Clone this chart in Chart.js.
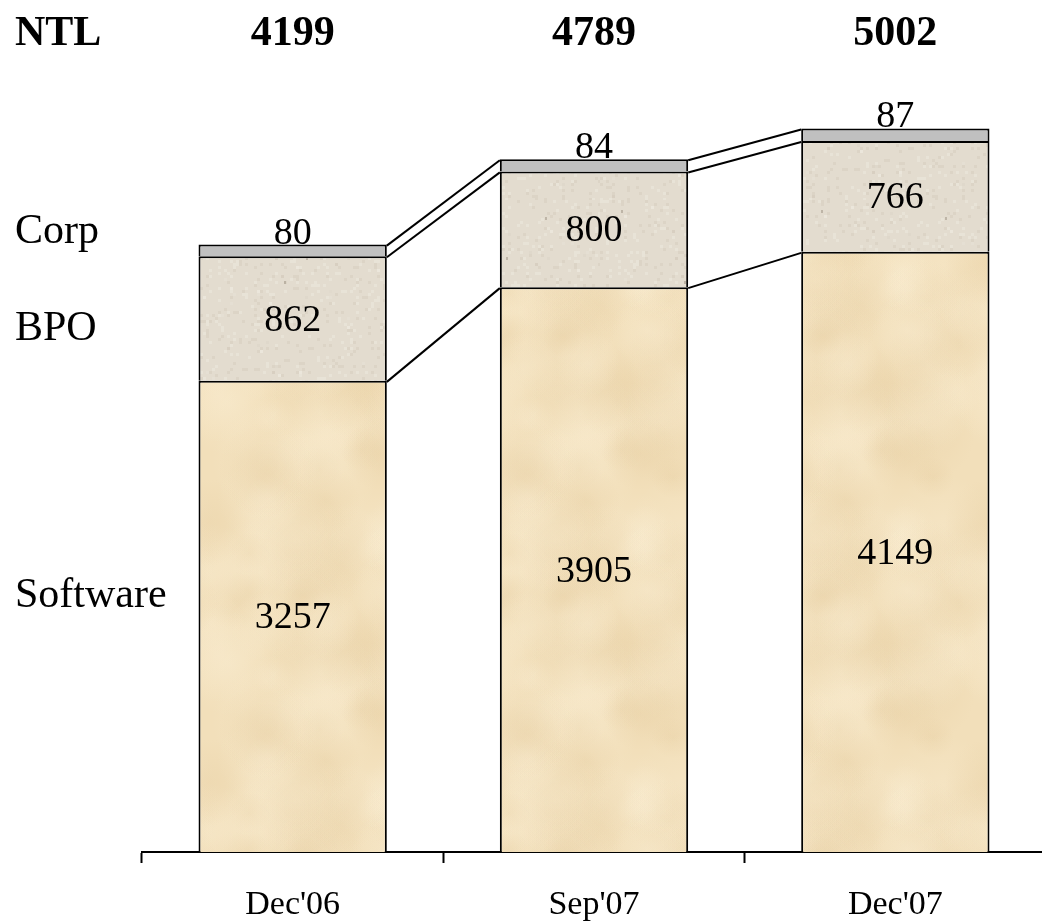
<!DOCTYPE html>
<html>
<head>
<meta charset="utf-8">
<title>NTL headcount</title>
<script src="https://cdn.jsdelivr.net/npm/chart.js@4.4.1/dist/chart.umd.min.js"></script>
<style>
  html, body { margin: 0; padding: 0; background: #fff; overflow: hidden; }
  #wrap { width: 1042px; height: 923px; overflow: hidden; }
</style>
</head>
<body>
<div id="wrap"><canvas id="chart" width="1046" height="948"></canvas></div>
<script>
// Periods and headcount per business line
const periods = ["Dec'06", "Sep'07", "Dec'07"];
const software = [3257, 3905, 4149];
const bpo = [862, 800, 766];
const corp = [80, 84, 87];
const seriesNames = ["Software", "BPO", "Corp"];
const totalLabel = "NTL";

const SERIF = "'Liberation Serif', 'Times New Roman', serif";

// Small seeded generator so the paper-like texture is the same on every load
function seeded(seed) {
  let s = seed >>> 0;
  return function () {
    s = (s + 0x6D2B79F5) >>> 0;
    let t = s;
    t = Math.imul(t ^ (t >>> 15), t | 1);
    t ^= t + Math.imul(t ^ (t >>> 7), t | 61);
    return ((t ^ (t >>> 14)) >>> 0) / 4294967296;
  };
}

// Warm, softly mottled fill for the software segment
function sandPattern() {
  const c = document.createElement('canvas');
  c.width = 260; c.height = 260;
  const g = c.getContext('2d');
  const rnd = seeded(17);
  g.fillStyle = '#f2dfba';
  g.fillRect(0, 0, 260, 260);
  for (let i = 0; i < 60; i++) {
    const x = rnd() * 260, y = rnd() * 260, r = 18 + rnd() * 40;
    const light = rnd() < 0.55;
    const col = light ? 'rgba(250,238,212,' : 'rgba(230,205,160,';
    for (const dx of [-260, 0, 260]) for (const dy of [-260, 0, 260]) {
      const gr = g.createRadialGradient(x + dx, y + dy, 0, x + dx, y + dy, r);
      gr.addColorStop(0, col + '0.35)');
      gr.addColorStop(1, col + '0)');
      g.fillStyle = gr;
      g.fillRect(x + dx - r, y + dy - r, 2 * r, 2 * r);
    }
  }
  return g.createPattern(c, 'repeat');
}

// Fine grey-beige speckle for the BPO segment
function stonePattern() {
  const c = document.createElement('canvas');
  c.width = 200; c.height = 200;
  const g = c.getContext('2d');
  const rnd = seeded(41);
  g.fillStyle = '#e3dccf';
  g.fillRect(0, 0, 200, 200);
  for (let i = 0; i < 700; i++) {
    const x = Math.floor(rnd() * 67) * 3, y = Math.floor(rnd() * 67) * 3;
    const v = rnd();
    g.fillStyle = v < 0.5 ? 'rgba(210,201,186,0.4)' : 'rgba(238,233,224,0.5)';
    g.fillRect(x, y, 3, 3);
  }
  for (let i = 0; i < 5; i++) {
    g.fillStyle = 'rgba(160,150,135,0.55)';
    g.fillRect(Math.floor(rnd() * 198), Math.floor(rnd() * 198), 2, 3);
  }
  return g.createPattern(c, 'repeat');
}

const ctx0 = document.getElementById('chart').getContext('2d');
const fills = [sandPattern(), stonePattern(), '#c0c0c0'];

// Lines joining the top of each segment to the same segment in the next bar
const connectors = {
  id: 'connectors',
  afterDatasetsDraw(chart) {
    const ctx = chart.ctx;
    ctx.save();
    ctx.strokeStyle = '#000';
    ctx.lineWidth = 2;
    chart.data.datasets.forEach((ds, d) => {
      const bars = chart.getDatasetMeta(d).data;
      for (let i = 0; i < bars.length - 1; i++) {
        const a = bars[i], b = bars[i + 1];
        ctx.beginPath();
        ctx.moveTo(a.x + a.width / 2, a.y + 1);
        ctx.lineTo(b.x - b.width / 2, b.y + 1);
        ctx.stroke();
      }
    });
    ctx.restore();
  }
};

// Segment values, totals row and series names on the left
const annotations = {
  id: 'annotations',
  afterDraw(chart) {
    const ctx = chart.ctx;
    ctx.save();
    ctx.fillStyle = '#000';
    ctx.textAlign = 'center';
    const last = chart.data.datasets.length - 1;
    chart.data.datasets.forEach((ds, d) => {
      const bars = chart.getDatasetMeta(d).data;
      bars.forEach((bar, i) => {
        ctx.font = '38px ' + SERIF;
        if (d === last) {
          ctx.textBaseline = 'alphabetic';
          ctx.fillText(String(ds.data[i]), bar.x, bar.y - 1);
        } else {
          ctx.textBaseline = 'middle';
          ctx.fillText(String(ds.data[i]), bar.x, (bar.y + bar.base) / 2 + 2);
        }
      });
    });
    // totals
    const first = chart.getDatasetMeta(0).data;
    ctx.font = 'bold 42px ' + SERIF;
    ctx.textBaseline = 'alphabetic';
    first.forEach((bar, i) => {
      const total = chart.data.datasets.reduce((s, ds) => s + ds.data[i], 0);
      ctx.fillText(String(total), bar.x, 45);
    });
    ctx.textAlign = 'left';
    ctx.fillText(totalLabel, 15, 45);
    ctx.font = '42px ' + SERIF;
    const nameBaselines = { Corp: 243, BPO: 340, Software: 607 };
    seriesNames.forEach(n => ctx.fillText(n, 15, nameBaselines[n]));
    ctx.restore();
  }
};

new Chart(ctx0, {
  type: 'bar',
  data: {
    labels: periods,
    datasets: [
      { label: seriesNames[0], data: software, backgroundColor: fills[0] },
      { label: seriesNames[1], data: bpo, backgroundColor: fills[1] },
      { label: seriesNames[2], data: corp, backgroundColor: fills[2] }
    ].map(ds => Object.assign(ds, {
      borderColor: '#000',
      borderWidth: { top: 2, left: 2, right: 2, bottom: 0 },
      borderSkipped: false,
      barPercentage: 0.625,
      categoryPercentage: 1
    }))
  },
  options: {
    responsive: false,
    animation: false,
    layout: { padding: { left: 142, right: 0, top: 0, bottom: 1 } },
    plugins: { legend: { display: false }, tooltip: { enabled: false } },
    scales: {
      x: {
        stacked: true,
        offset: true,
        grid: {
          display: true,
          offset: true,
          drawOnChartArea: false,
          drawTicks: true,
          tickLength: 11,
          tickWidth: 2,
          tickColor: '#000'
        },
        border: { display: true, color: '#000', width: 2 },
        ticks: {
          color: '#000',
          padding: 25,
          font: { family: SERIF, size: 34, lineHeight: 1 }
        }
      },
      y: {
        stacked: true,
        display: false,
        min: 0,
        max: 5890
      }
    }
  },
  plugins: [connectors, annotations]
});
</script>
</body>
</html>
